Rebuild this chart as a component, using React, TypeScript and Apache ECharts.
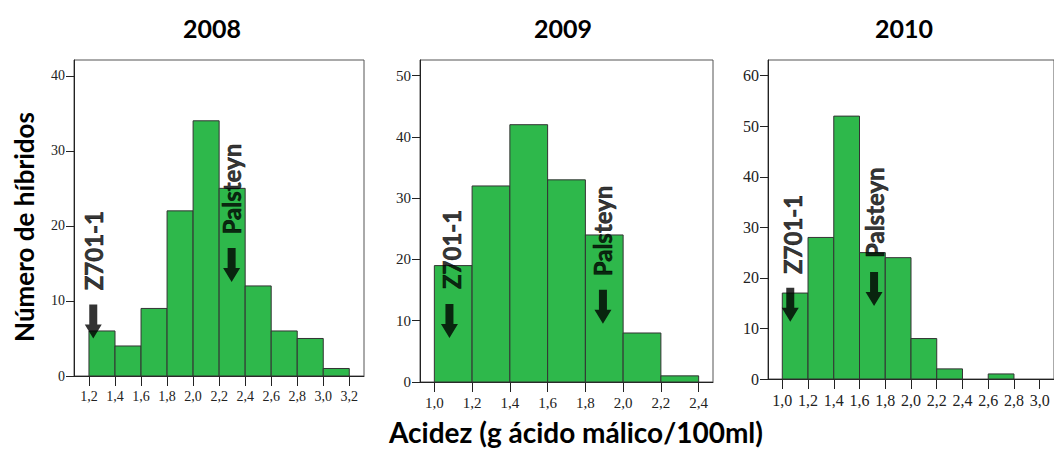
import React, { useEffect, useRef } from "react";
import * as echarts from "echarts";

// ---- data ----
const BIN_WIDTH = 0.2;
const years = ["2008", "2009", "2010"];

const binStarts2008 = [1.2, 1.4, 1.6, 1.8, 2.0, 2.2, 2.4, 2.6, 2.8, 3.0];
const counts2008 = [6, 4, 9, 22, 34, 25, 12, 6, 5, 1];
const binStarts2009 = [1.0, 1.2, 1.4, 1.6, 1.8, 2.0, 2.2];
const counts2009 = [19, 32, 42, 33, 24, 8, 1];
const binStarts2010 = [1.0, 1.2, 1.4, 1.6, 1.8, 2.0, 2.2, 2.4, 2.6, 2.8];
const counts2010 = [17, 28, 52, 25, 24, 8, 2, 0, 1, 0];

const xTicks2008 = [1.2, 1.4, 1.6, 1.8, 2.0, 2.2, 2.4, 2.6, 2.8, 3.0, 3.2];
const xTicks2009 = [1.0, 1.2, 1.4, 1.6, 1.8, 2.0, 2.2, 2.4];
const xTicks2010 = [1.0, 1.2, 1.4, 1.6, 1.8, 2.0, 2.2, 2.4, 2.6, 2.8, 3.0];
const yTicks2008 = [0, 10, 20, 30, 40];
const yTicks2009 = [0, 10, 20, 30, 40, 50];
const yTicks2010 = [0, 10, 20, 30, 40, 50, 60];

const xRange2008 = [1.085, 3.313];
const xRange2009 = [0.924, 2.476];
const xRange2010 = [0.889, 3.111];
const yMax2008 = 42.1;
const yMax2009 = 52.56;
const yMax2010 = 63.1;

const markerNames = ["Z701-1", "Palsteyn"];
// [arrowX, arrowY, labelX, labelY] in data units, per marker
const markers2008 = [
  [1.233, 7.26, 1.233, 16.7],
  [2.296, 14.8, 2.296, 24.9],
];
const markers2009 = [
  [1.08, 9.95, 1.092, 21.65],
  [1.893, 12.3, 1.893, 24.66],
];
const markers2010 = [
  [1.062, 14.7, 1.077, 28.6],
  [1.713, 17.8, 1.713, 32.9],
];

const yAxisTitle = "Número de híbridos";
const xAxisTitle = "Acidez (g ácido málico/100ml)";

// ---- layout / style ----
const GREEN = "#2eb84b";
const SERIF = "Liberation Serif";
const grids = [
  { left: 74, top: 60, width: 290, height: 316 },
  { left: 420, top: 60, width: 293, height: 322 },
  { left: 768, top: 60, width: 288, height: 319 },
];
const titleX = [212, 563, 904];
const tickFont = [14, 15, 16];

const ARROW = "path://M4.5,0L12.5,0L12.5,20L17,20L8.5,34L0,20L4.5,20Z";

const fmt = (v: number) => v.toFixed(1).replace(".", ",");

export default function App() {
  const ref = useRef<HTMLDivElement>(null);
  useEffect(() => {
    if (!ref.current) return;
    const chart = echarts.init(ref.current, null, { renderer: "svg" });

    const panels = [
      { starts: binStarts2008, counts: counts2008, xt: xTicks2008, yt: yTicks2008, xr: xRange2008, ym: yMax2008, mk: markers2008 },
      { starts: binStarts2009, counts: counts2009, xt: xTicks2009, yt: yTicks2009, xr: xRange2009, ym: yMax2009, mk: markers2009 },
      { starts: binStarts2010, counts: counts2010, xt: xTicks2010, yt: yTicks2010, xr: xRange2010, ym: yMax2010, mk: markers2010 },
    ];

    const gridOpts: any[] = [];
    const xAxes: any[] = [];
    const yAxes: any[] = [];
    const series: any[] = [];

    panels.forEach((p, i) => {
      gridOpts.push({ ...grids[i], show: true, borderColor: "#555", borderWidth: 1, containLabel: false });
      xAxes.push({
        type: "value",
        gridIndex: i,
        min: p.xr[0],
        max: p.xr[1],
        splitLine: { show: false },
        axisLine: { show: true, onZero: false, lineStyle: { color: "#222", width: 1 } },
        axisTick: { show: true, length: 10, customValues: p.xt, lineStyle: { color: "#222" } },
        axisLabel: {
          show: true,
          customValues: p.xt,
          formatter: (v: number) => fmt(v),
          fontFamily: SERIF,
          fontSize: tickFont[i],
          color: "#222",
          margin: 13,
        },
      });
      yAxes.push({
        type: "value",
        gridIndex: i,
        min: 0,
        max: p.ym,
        splitLine: { show: false },
        axisLine: { show: true, lineStyle: { color: "#222", width: 1 } },
        axisTick: { show: true, length: 8, customValues: p.yt, lineStyle: { color: "#222" } },
        axisLabel: {
          show: true,
          customValues: p.yt,
          formatter: (v: number) => String(Math.round(v)),
          fontFamily: SERIF,
          fontSize: tickFont[i],
          color: "#222",
          margin: 9,
        },
      });
      series.push({
        type: "custom",
        xAxisIndex: i,
        yAxisIndex: i,
        encode: { x: [0, 1], y: 2 },
        data: p.starts.map((s, k) => [s, s + BIN_WIDTH, p.counts[k]]),
        renderItem: (params: any, api: any) => {
          const x0 = api.value(0);
          const x1 = api.value(1);
          const y = api.value(2);
          if (!y) return { type: "group", children: [] };
          const a = api.coord([x0, y]);
          const b = api.coord([x1, 0]);
          return {
            type: "rect",
            shape: { x: a[0], y: a[1], width: b[0] - a[0], height: b[1] - a[1] },
            style: { fill: GREEN, stroke: "#333", lineWidth: 1 },
          };
        },
      });
      // arrows
      series.push({
        type: "scatter",
        xAxisIndex: i,
        yAxisIndex: i,
        symbol: ARROW,
        symbolSize: [17, 34],
        itemStyle: { color: "#000" },
        data: p.mk.map((m) => [m[0], m[1]]),
        z: 5,
      });
      // labels
      series.push({
        type: "scatter",
        xAxisIndex: i,
        yAxisIndex: i,
        symbolSize: 1,
        itemStyle: { color: "rgba(0,0,0,0)" },
        data: p.mk.map((m, k) => ({ value: [m[2], m[3]], name: markerNames[k] })),
        label: {
          show: true,
          position: "inside",
          rotate: 90,
          formatter: (d: any) => d.name,
          fontFamily: "Lato",
          fontWeight: "bold",
          fontSize: 24,
          color: "#000",
          textBorderColor: "#000",
          textBorderWidth: 0.6,
        },
        z: 6,
      });
    });

    const graphic: any[] = years.map((y, i) => ({
      type: "text",
      x: titleX[i],
      y: 28,
      style: {
        text: y,
        fontFamily: "Lato",
        fontWeight: "bold",
        fontSize: 25,
        fill: "#000",
        textAlign: "center",
        textVerticalAlign: "middle",
      },
    }));
    graphic.push({
      type: "text",
      x: 24,
      y: 227,
      rotation: Math.PI / 2,
      style: {
        text: yAxisTitle,
        fontFamily: "Lato",
        fontWeight: "bold",
        fontSize: 26,
        fill: "#000",
        textAlign: "center",
        textVerticalAlign: "middle",
      },
    });
    graphic.push({
      type: "text",
      x: 576,
      y: 432,
      style: {
        text: xAxisTitle,
        fontFamily: "Lato",
        fontWeight: "bold",
        fontSize: 28,
        fill: "#000",
        textAlign: "center",
        textVerticalAlign: "middle",
      },
    });

    chart.setOption({
      animation: false,
      backgroundColor: "#fff",
      textStyle: { fontFamily: SERIF },
      grid: gridOpts,
      xAxis: xAxes,
      yAxis: yAxes,
      series,
      graphic,
    });
    return () => chart.dispose();
  }, []);
  return (
    <div
      ref={ref}
      style={{ position: "fixed", left: 0, top: 0, width: 1054, height: 452 }}
    />
  );
}
